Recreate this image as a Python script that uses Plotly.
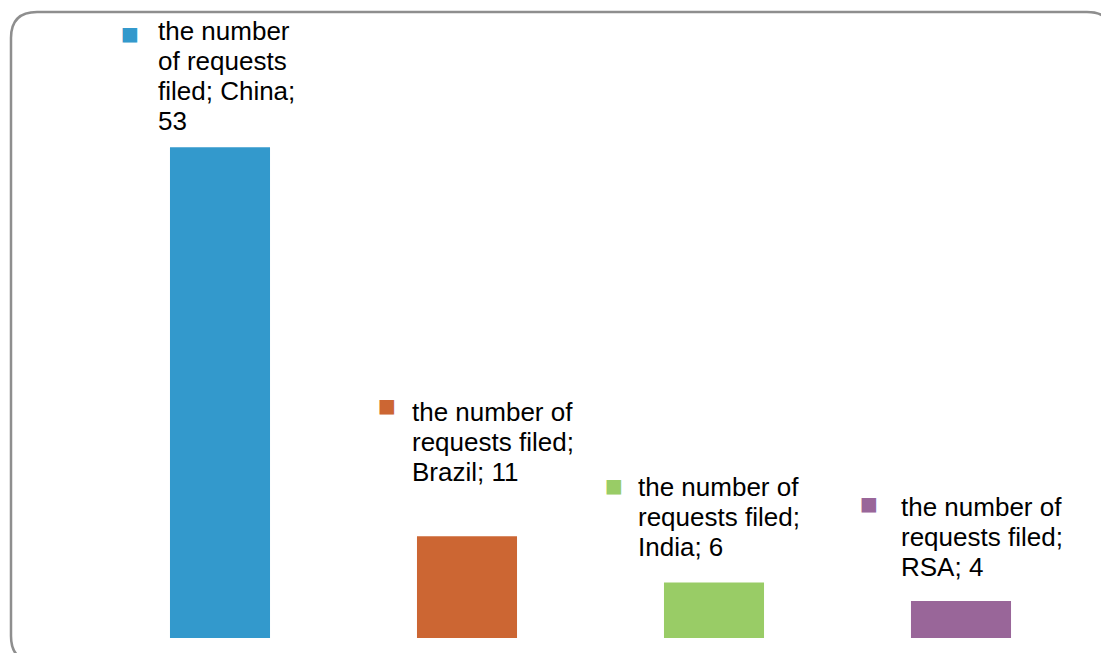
import plotly.graph_objects as go

# ---- data ----
categories = ["China", "Brazil", "India", "RSA"]
values = [53, 11, 6, 4]
colors = ["#3399CC", "#CC6633", "#99CC66", "#996699"]
series_name = "the number of requests filed"

# label line templates (wrapping as in reference)
label_templates = [
    ["the number", "of requests", "filed; {c};", "{v}"],
    ["the number of", "requests filed;", "{c}; {v}"],
    ["the number of", "requests filed;", "{c}; {v}"],
    ["the number of", "requests filed;", "{c}; {v}"],
]
# offsets (px) relative to bar top-centre: square centre dx, dy(up); text left dx, first line dy(up)
label_offsets = [
    (-90, 114, -64, 116),
    (-80, 131, -57, 124),
    (-100, 97, -78, 95),
    (-92, 98, -62, 94),
]

W, H = 1101, 653
FONT = "Arial, Liberation Sans, sans-serif"

fig = go.Figure()
fig.add_trace(go.Bar(
    x=list(range(len(categories))), y=values,
    marker=dict(color=colors, line=dict(width=0)),
    hoverinfo="skip",
))

annotations = []
LINE = 30
for i, (c, v) in enumerate(zip(categories, values)):
    sdx, sdy, tdx, tdy = label_offsets[i]
    annotations.append(dict(
        x=i, y=v, xref="x", yref="y", text="■", showarrow=False,
        xanchor="center", yanchor="middle", xshift=sdx, yshift=sdy,
        font=dict(family="DejaVu Sans", size=19, color=colors[i]),
    ))
    for k, line in enumerate(label_templates[i]):
        annotations.append(dict(
            x=i, y=v, xref="x", yref="y", text=line.format(c=c, v=v),
            showarrow=False, xanchor="left", yanchor="middle",
            xshift=tdx, yshift=tdy - k * LINE,
            font=dict(family=FONT, size=26, color="#000000"),
        ))

# rounded border (pixel -> paper)
def px(x, y):
    return f"{x / W:.5f},{1 - y / H:.5f}"

L, T, R, B, r = 11, 12, 1113, 662, 26
path = (f"M {px(L, T + r)} Q {px(L, T)} {px(L + r, T)} L {px(R - r, T)} "
        f"Q {px(R, T)} {px(R, T + r)} L {px(R, B - r)} Q {px(R, B)} {px(R - r, B)} "
        f"L {px(L + r, B)} Q {px(L, B)} {px(L, B - r)} Z")

fig.update_layout(
    width=W, height=H,
    margin=dict(l=0, r=0, t=0, b=0),
    paper_bgcolor="white", plot_bgcolor="white",
    showlegend=False,
    bargap=0.595,
    xaxis=dict(range=[-0.5, 3.5], domain=[96.5 / W, 1084.5 / W], visible=False),
    yaxis=dict(range=[0, 60], domain=[(H - 638) / H, (H - (638 - 60 * 9.26)) / H], visible=False),
    annotations=annotations,
    shapes=[dict(type="path", xref="paper", yref="paper", path=path,
                 line=dict(color="#8E8E8E", width=2.5), layer="below")],
)

fig.write_html("out.html")
